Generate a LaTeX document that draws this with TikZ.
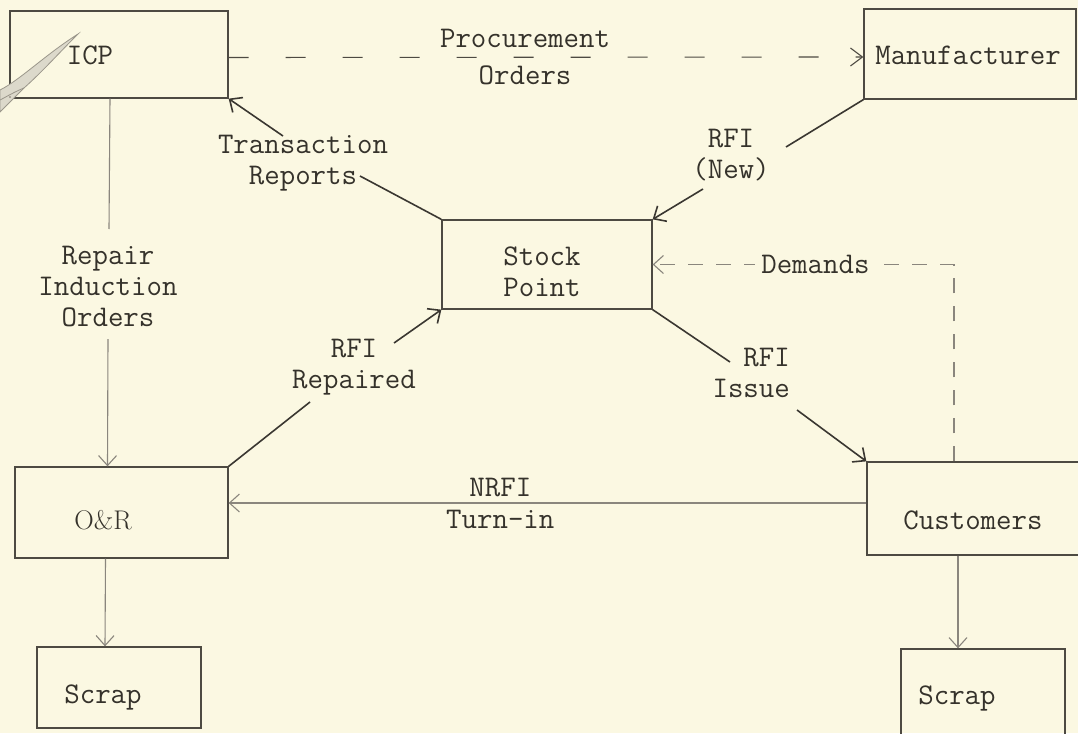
\documentclass[tikz,border=0pt]{standalone}
\usepackage{fontspec}
\usetikzlibrary{arrows.meta}
\definecolor{bg}{HTML}{FBF8E2}
\definecolor{boxc}{HTML}{4D4A42}
\definecolor{solc}{HTML}{3A3731}
\definecolor{thinc}{HTML}{8A867D}
\definecolor{txtc}{HTML}{35322B}
\definecolor{smudgef}{HTML}{DCD9CB}
\definecolor{smudged}{HTML}{9A968A}
\tikzset{
  box/.style={draw=boxc, line width=1.3pt, inner sep=0pt},
  tw/.style={font=\fontsize{30}{31}\selectfont\ttfamily, text=txtc, align=center, inner sep=0pt},
  rmlab/.style={font=\fontsize{27}{29}\selectfont\rmfamily, text=txtc, inner sep=0pt},
  barb/.style={-{Straight Barb[length=10pt,width=18pt]}},
  solidcon/.style={draw=solc, line width=1.6pt},
  thincon/.style={draw=thinc, line width=1.1pt},
}
\begin{document}
\begin{tikzpicture}[x=1pt,y=-1pt]
\useasboundingbox (0,0) rectangle (1078,733);
\fill[bg] (0,0) rectangle (1078,733);

% boxes
\node[box, minimum width=218pt, minimum height=87pt,
      label={[tw,xshift=-29pt,yshift=-0.5pt]center:ICP}] (icp) at (119,54.5) {};
\node[box, minimum width=212pt, minimum height=90pt,
      label={[tw,xshift=-2pt,yshift=-1pt]center:Manufacturer}] (man) at (970,54) {};
\node[box, minimum width=210pt, minimum height=89pt,
      label={[tw,xshift=-5pt,yshift=-7.5pt]center:Stock\\Point}] (sp) at (547,264.5) {};
\node[box, minimum width=213pt, minimum height=91pt,
      label={[rmlab,xshift=-18.5pt,yshift=-7.5pt]center:O\&R}] (onr) at (121.5,512.5) {};
\node[box, minimum width=164pt, minimum height=81pt,
      label={[tw,xshift=-16pt,yshift=-9.5pt]center:Scrap}] (scl) at (119,687.5) {};
\node[box, minimum width=215pt, minimum height=93pt,
      label={[tw,xshift=-1.5pt,yshift=-11.5pt]center:Customers}] (cus) at (974.5,508.5) {};
\node[box, minimum width=164pt, minimum height=91pt,
      label={[tw,xshift=-26pt,yshift=-3.5pt]center:Scrap}] (scr) at (983,694.5) {};

% Procurement orders
\draw[thincon, draw=boxc, dash pattern=on 20pt off 37pt, -{Straight Barb[length=12pt,width=18pt]}]
  ([yshift=-3pt]icp.east) -- node[tw, pos=0.467] (pol) {Procurement\\[6pt]Orders} ([yshift=-3pt]man.west);

% Transaction reports
\coordinate (tr1) at (283,136);
\coordinate (tr2) at (360,176);
\draw[solidcon, barb] (sp.north west) -- (tr2) (tr1) -- (icp.south east);
\node[tw] (trl) at (303,163) {Transaction\\Reports};

% RFI (New)
\coordinate (rn1) at (786,147);
\coordinate (rn2) at (703,189);
\draw[solidcon, barb] (man.south west) -- (rn1) (rn2) -- (sp.north east);
\node[tw] (rnl) at (731,155) {RFI\\(New)};

% RFI Repaired
\coordinate (rr1) at (310,402);
\coordinate (rr2) at (394,343);
\draw[solidcon, barb] (onr.north east) -- (rr1) (rr2) -- (sp.south west);
\node[tw] (rrl) at (354,367) {RFI\\Repaired};

% RFI Issue
\coordinate (ri1) at (730,362);
\coordinate (ri2) at (797,410);
\draw[solidcon, barb] (sp.south east) -- (ri1) (ri2) -- (cus.north west);
\node[tw, align=right, anchor=east] (ril) at (790,373) {RFI\\Issue};

% Repair induction orders
\coordinate (ro1) at (109,229);
\coordinate (ro2) at (108,339);
\draw[thincon, barb] ([xshift=-9pt]icp.south) -- (ro1) (ro2) -- ([xshift=-14pt]onr.north);
\node[tw] (rol) at (108,287) {Repair\\Induction\\Orders};

% NRFI turn-in
\draw[thincon, barb] ([yshift=5.5pt]cus.west) -- node[tw, pos=0.574] (nrl) {NRFI\\[1pt]Turn-in} ([yshift=9.5pt]onr.east);

% Demands
\draw[thincon, dash pattern=on 15pt off 13pt, barb]
  ([xshift=-20.5pt]cus.north) |- node[tw, pos=0.73, fill=bg, inner xsep=6pt, inner ysep=2pt] (dml) {Demands} (sp.east);

% to scrap
\draw[thincon, barb] ([xshift=-16pt]onr.south) -- ([xshift=-14pt]scl.north);
\draw[thincon, barb] ([xshift=-16.5pt]cus.south) -- ([xshift=-25pt]scr.north);

% smudge on scan (twig-like stroke)
\filldraw[fill=smudgef, draw=smudged, line width=0.8pt]
  (0,90) .. controls (20,80) and (45,55) .. (78,34)
  .. controls (60,52) and (42,72) .. (24,88)
  .. controls (16,96) and (8,104) .. (0,112) -- cycle;
\draw[smudged, line width=0.8pt] (24,88) .. controls (14,92) and (6,97) .. (0,100);
\fill[smudged] (10,97) circle (1.2pt);
\end{tikzpicture}
\end{document}
